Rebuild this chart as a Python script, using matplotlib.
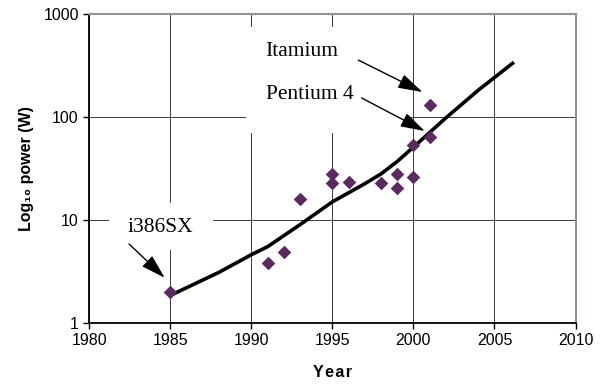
import numpy as np
import matplotlib
matplotlib.use("Agg")
from matplotlib import pyplot as plt
from matplotlib.patches import Rectangle
from matplotlib.ticker import FixedLocator, FixedFormatter, NullLocator

# processor power points (year, W)
years = [1985, 1991, 1992, 1993, 1995, 1995, 1996, 1998, 1999, 1999, 2000, 2000, 2001, 2001]
power = [2.0, 3.8, 4.9, 16, 28, 23, 23.5, 23, 28, 20.5, 26, 53, 130, 64]

# trend curve
trend_years = [1985, 1988, 1990, 1991, 1993, 1995, 1997, 1998, 1999, 2000, 2002, 2004, 2006.2]
trend_power = [1.85, 3.1, 4.6, 5.5, 9.0, 15, 22.5, 28, 37, 51, 98, 182, 340]

x_ticks = [1980, 1985, 1990, 1995, 2000, 2005, 2010]
y_ticks = [1, 10, 100, 1000]
y_tick_labels = ["1", "10", "100", "1000"]

# labels: text, text position, arrow tail, arrow tip
labels = ["Itamium", "Pentium 4", "i386SX"]
label_pos = [(1993.1, 430), (1993.6, 167), (1984.4, 8.4)]
arrow_tail = [(1996.6, 357), (1996.8, 153), (1982.45, 5.85)]
arrow_tip = [(2000.55, 175), (2000.7, 73), (1984.65, 2.75)]

# white areas behind labels (x0, x1, y0, y1)
label_boxes = [(1989.7, 1999.8, 70, 750), (1981.2, 1987.65, 5.1, 14.6)]

fig = plt.figure(figsize=(6.02, 3.84), dpi=100)
ax = fig.add_axes([0.1483, 0.159, 0.8077, 0.8045])

ax.set_yscale("log")
ax.set_xlim(1980, 2010)
ax.set_ylim(1, 1000)

ax.xaxis.set_major_locator(FixedLocator(x_ticks))
ax.yaxis.set_major_locator(FixedLocator(y_ticks))
ax.yaxis.set_major_formatter(FixedFormatter(y_tick_labels))
ax.yaxis.set_minor_locator(NullLocator())

ax.grid(True, color="#3a3a3a", linewidth=0.7, zorder=0)
ax.set_axisbelow(True)

for x0, x1, y0, y1 in label_boxes:
    ax.add_patch(Rectangle((x0, y0), x1 - x0, y1 - y0, facecolor="white",
                           edgecolor="none", zorder=1))

ax.plot(trend_years, trend_power, color="black", linewidth=2.6, zorder=3,
        solid_capstyle="butt", solid_joinstyle="round")
ax.scatter(years, power, marker="D", s=48, color="#5a2a60", zorder=4, linewidths=0)

for txt, pos, tail, tip in zip(labels, label_pos, arrow_tail, arrow_tip):
    ax.text(pos[0], pos[1], txt, family="Liberation Serif", fontsize=15.5,
            ha="center", va="center", zorder=5)
    ax.annotate("", xy=tip, xytext=tail, zorder=5,
                arrowprops=dict(arrowstyle="-|>,head_length=1.5,head_width=0.45",
                                color="black", linewidth=1.0, shrinkA=0, shrinkB=0))

for side in ["top", "right"]:
    ax.spines[side].set_color("#9a9090")
    ax.spines[side].set_linewidth(1.5)
for side in ["left", "bottom"]:
    ax.spines[side].set_color("black")
    ax.spines[side].set_linewidth(1.3)

ax.tick_params(axis="both", direction="out", length=4, width=1.0, labelsize=11.5,
               colors="black")
for lab in ax.get_xticklabels() + ax.get_yticklabels():
    lab.set_family("Liberation Sans")

ax.set_xlabel("Y\u200ae\u200aa\u200ar", family=["Liberation Sans", "DejaVu Sans"],
              fontsize=11.5, fontweight="bold", labelpad=12)
ax.set_ylabel("Log\u2081\u2080 power (W)", family=["Liberation Sans", "DejaVu Sans"],
              fontsize=11.5, fontweight="bold", labelpad=7)

fig.savefig("out.png", dpi=100)
